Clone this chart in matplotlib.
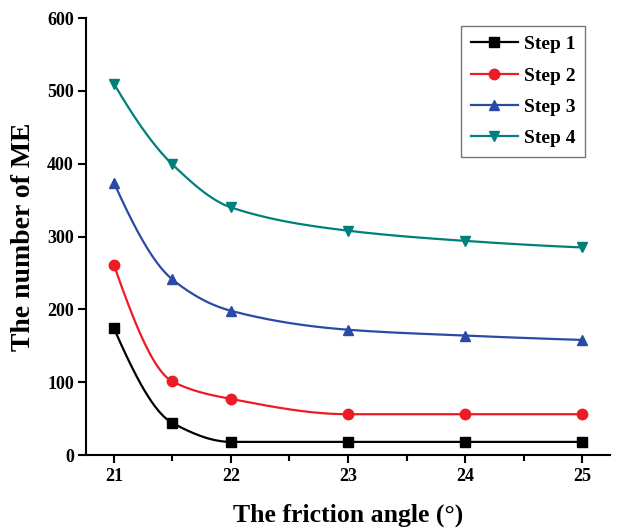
import numpy as np
import matplotlib
matplotlib.use("Agg")
import matplotlib.pyplot as plt

friction_angle = [21, 21.5, 22, 23, 24, 25]
step1 = [174, 44, 18, 18, 18, 18]
step2 = [261, 101, 77, 56, 56, 56]
step3 = [374, 241, 198, 172, 164, 158]
step4 = [510, 399, 340, 308, 294, 285]
series_names = ["Step 1", "Step 2", "Step 3", "Step 4"]
colors = ["#000000", "#ED1C24", "#2A4BA5", "#00807A"]
markers = ["s", "o", "^", "v"]


def pchip(x, y, xs):
    x = np.asarray(x, float); y = np.asarray(y, float)
    h = np.diff(x); d = np.diff(y) / h
    n = len(x); m = np.zeros(n)
    for k in range(1, n - 1):
        if d[k - 1] * d[k] > 0:
            w1 = 2 * h[k] + h[k - 1]; w2 = h[k] + 2 * h[k - 1]
            m[k] = (w1 + w2) / (w1 / d[k - 1] + w2 / d[k])
        else:
            m[k] = 0.0
    def end(h0, h1, d0, d1):
        mm = ((2 * h0 + h1) * d0 - h0 * d1) / (h0 + h1)
        if np.sign(mm) != np.sign(d0):
            mm = 0.0
        elif np.sign(d0) != np.sign(d1) and abs(mm) > abs(3 * d0):
            mm = 3 * d0
        return mm
    m[0] = end(h[0], h[1], d[0], d[1])
    m[-1] = end(h[-1], h[-2], d[-1], d[-2])
    idx = np.clip(np.searchsorted(x, xs) - 1, 0, n - 2)
    t = (xs - x[idx]) / h[idx]
    h00 = 2 * t**3 - 3 * t**2 + 1
    h10 = t**3 - 2 * t**2 + t
    h01 = -2 * t**3 + 3 * t**2
    h11 = t**3 - t**2
    return h00 * y[idx] + h10 * h[idx] * m[idx] + h01 * y[idx + 1] + h11 * h[idx] * m[idx + 1]


plt.rcParams['font.family'] = ['Liberation Serif', 'DejaVu Serif']
plt.rcParams['font.weight'] = 'bold'

fig = plt.figure(figsize=(6.17, 5.30), dpi=100)
ax = fig.add_axes([0.140, 0.1415, 0.849, 0.8245])

xs = np.linspace(friction_angle[0], friction_angle[-1], 400)
for vals, name, c, mk in zip([step1, step2, step3, step4], series_names, colors, markers):
    ax.plot(xs, pchip(friction_angle, vals, xs), color=c, lw=1.6)
    ax.plot(friction_angle, vals, linestyle='none', marker=mk, color=c, markersize=7.5)
    ax.plot([], [], color=c, lw=1.6, marker=mk, markersize=7.5, label=name)

ax.set_xlim(20.765, 25.24)
ax.set_ylim(0, 600)
ax.set_xticks([21, 22, 23, 24, 25])
ax.set_xticks([21.5, 22.5, 23.5, 24.5], minor=True)
ax.set_yticks(range(0, 601, 100))
ax.spines['top'].set_visible(False)
ax.spines['right'].set_visible(False)
for s in ['left', 'bottom']:
    ax.spines[s].set_linewidth(1.5)
ax.tick_params(axis='both', which='major', direction='out', length=6, width=1.5,
               labelsize=13, pad=3)
ax.tick_params(axis='x', which='minor', direction='out', length=4, width=1.5)
for lab in ax.get_xticklabels() + ax.get_yticklabels():
    lab.set_fontweight('bold')

ax.set_xlabel("The friction angle (\u00b0)", fontsize=18.5, fontweight='bold', labelpad=14)
ax.set_ylabel("The number of ME", fontsize=20, fontweight='bold', labelpad=8)

leg = fig.legend(loc='upper right', bbox_to_anchor=(0.948, 0.951), fontsize=14,
                 frameon=True, fancybox=False, edgecolor='#555555', handlelength=2.4,
                 borderpad=0.5, labelspacing=0.7, handletextpad=0.3, borderaxespad=0.0)
leg.get_frame().set_linewidth(1.0)
for t in leg.get_texts():
    t.set_fontweight('bold')

fig.savefig("out.png", dpi=100)
